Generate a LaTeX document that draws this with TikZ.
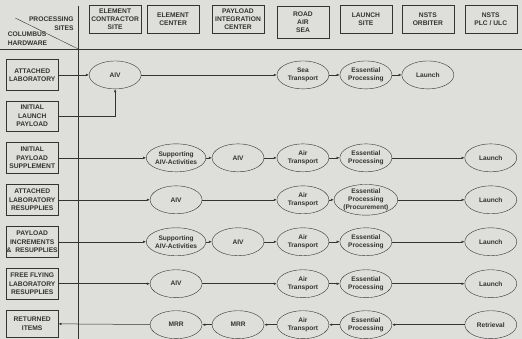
\documentclass[tikz,border=0pt]{standalone}
\usepackage{fontspec}
\setmainfont{Liberation Sans}
\usetikzlibrary{shapes.geometric,arrows.meta}
\definecolor{paper}{rgb}{0.87,0.87,0.86}
\definecolor{ink}{rgb}{0.2,0.2,0.2}
\tikzset{
  site/.style={draw=ink, text=ink, font=\fontsize{6.7}{8.2}\selectfont\bfseries, align=center,
    minimum width=52pt, minimum height=28pt, inner sep=1pt},
  hardware/.style={site, minimum height=31pt},
  task/.style={ellipse, draw=ink, text=ink, font=\fontsize{6.6}{7.8}\selectfont\bfseries, align=center,
    minimum width=52pt, minimum height=28pt, inner sep=0pt},
  flow/.style={draw=ink, line width=0.5pt, -{Latex[length=3pt,width=2.5pt]}}
}
\begin{document}
\begin{tikzpicture}[x=1pt, y=-1pt]
\fill[paper] (0,0) rectangle (522,339);
% table frame
\coordinate (tl) at (78,6);
\coordinate (bl) at (78,339);
\coordinate (hl) at (0,49);
\coordinate (hr) at (522,49);
\coordinate (dl) at (15,18);
\coordinate (dr) at (78,49);
\draw[ink, line width=0.5pt] (tl) -- (bl);
\draw[ink, line width=0.5pt] (hl) -- (hr);
\draw[ink, line width=0.4pt] (dl) -- (dr);
\node[text=ink, font=\fontsize{6.7}{8.8}\selectfont\bfseries, align=right, anchor=east] (sites) at (77,24) {PROCESSING\\SITES};
\node[text=ink, font=\fontsize{6.7}{8.8}\selectfont\bfseries, align=left, anchor=west] (hw) at (4,39) {COLUMBUS\\HARDWARE};

% processing sites
\node[site] (contractor) at (115,19) {ELEMENT\\CONTRACTOR\\SITE};
\node[site] (center) at (173,19) {ELEMENT\\CENTER};
\node[site] (integration) at (238,19) {PAYLOAD\\INTEGRATION\\CENTER};
\node[site, minimum height=32pt] (road) at (303,22) {ROAD\\AIR\\SEA};
\node[site] (launchsite) at (366,19) {LAUNCH\\SITE};
\node[site] (orbiter) at (428,19) {NSTS\\ORBITER};
\node[site] (plc) at (491,19) {NSTS\\PLC / ULC};

% columbus hardware
\node[hardware] (lab) at (32,75) {ATTACHED\\LABORATORY};
\node[hardware, minimum height=30pt] (ilp) at (32,116) {INITIAL\\LAUNCH\\PAYLOAD};
\node[hardware] (ips) at (32,158) {INITIAL\\PAYLOAD\\SUPPLEMENT};
\node[hardware] (labres) at (32,200) {ATTACHED\\LABORATORY\\RESUPPLIES};
\node[hardware] (incr) at (32,242) {PAYLOAD\\INCREMENTS\\\&\ \ RESUPPLIES};
\node[hardware] (ffl) at (32,284) {FREE FLYING\\LABORATORY\\RESUPPLIES};
\node[hardware, minimum height=27pt] (ret) at (32,324) {RETURNED\\ITEMS};

% attached laboratory / initial launch payload
\node[task] (aivA) at (115,75) {AIV};
\node[task] (seaA) at (303,75) {Sea\\Transport};
\node[task] (epA) at (366,75) {Essential\\Processing};
\node[task] (launchA) at (428,75) {Launch};
\draw[flow] (lab) -- (aivA);
\draw[flow] (ilp.east) -| (aivA.south);
\draw[flow] (aivA) -- (seaA);
\draw[flow] (seaA) -- (epA);
\draw[flow] (epA) -- (launchA);

% initial payload supplement
\node[task] (supB) at (176,158) {Supporting\\AIV-Activities};
\node[task] (aivB) at (238,158) {AIV};
\node[task] (airB) at (303,158) {Air\\Transport};
\node[task] (epB) at (366,158) {Essential\\Processing};
\node[task] (launchB) at (491,158) {Launch};
\draw[flow] (ips) -- (supB);
\draw[flow] (supB) -- (aivB);
\draw[flow] (aivB) -- (airB);
\draw[flow] (airB) -- (epB);
\draw[flow] (epB) -- (launchB);

% attached laboratory resupplies
\node[task] (aivC) at (176,200) {AIV};
\node[task] (airC) at (303,200) {Air\\Transport};
\node[task, minimum height=30pt] (epC) at (366,200) {Essential\\Processing\\(Procurement)};
\node[task] (launchC) at (491,200) {Launch};
\draw[flow] (labres) -- (aivC);
\draw[flow] (aivC) -- (airC);
\draw[flow] (airC) -- (epC);
\draw[flow] (epC) -- (launchC);

% payload increments & resupplies
\node[task] (supD) at (176,242) {Supporting\\AIV-Activities};
\node[task] (aivD) at (238,242) {AIV};
\node[task] (airD) at (303,242) {Air\\Transport};
\node[task] (epD) at (366,242) {Essential\\Processing};
\node[task] (launchD) at (491,242) {Launch};
\draw[flow] (incr) -- (supD);
\draw[flow] (supD) -- (aivD);
\draw[flow] (aivD) -- (airD);
\draw[flow] (airD) -- (epD);
\draw[flow] (epD) -- (launchD);

% free flying laboratory resupplies
\node[task] (aivE) at (176,284) {AIV};
\node[task] (airE) at (303,284) {Air\\Transport};
\node[task] (epE) at (366,284) {Essential\\Processing};
\node[task] (launchE) at (491,284) {Launch};
\draw[flow] (ffl) -- (aivE);
\draw[flow] (aivE) -- (airE);
\draw[flow] (airE) -- (epE);
\draw[flow] (epE) -- (launchE);

% returned items
\node[task] (mrrF) at (176,325) {MRR};
\node[task] (mrrG) at (238,325) {MRR};
\node[task] (airF) at (303,325) {Air\\Transport};
\node[task] (epF) at (366,325) {Essential\\Processing};
\node[task] (retr) at (491,325) {Retrieval};
\draw[flow] (retr) -- (epF);
\draw[flow] (epF) -- (airF);
\draw[flow] (airF) -- (mrrG);
\draw[flow] (mrrG) -- (mrrF);
\draw[flow] (mrrF) -- (ret);
\end{tikzpicture}
\end{document}
